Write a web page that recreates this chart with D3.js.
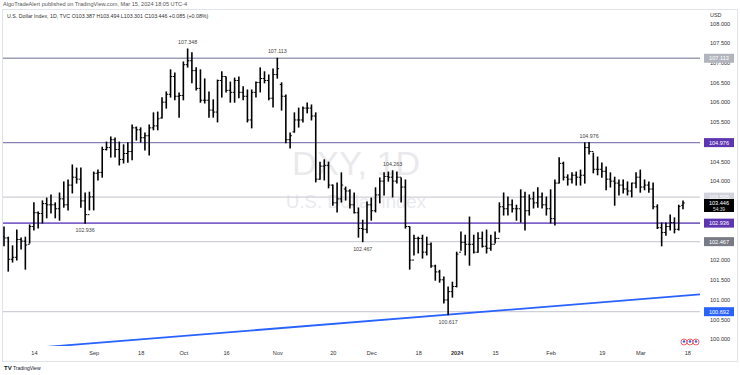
<!DOCTYPE html>
<html>
<head>
<meta charset="utf-8">
<script src="https://cdn.jsdelivr.net/npm/d3@7"></script>
<style>
  body { margin: 0; background: #fff; }
  svg { display: block; font-family: "Liberation Sans", Arial, sans-serif; }
</style>
</head>
<body>
<div id="chart"></div>
<script>
// daily bars, first session and the closed holidays
const startDate = "2023-08-03";
const closedDays = ["2023-12-25", "2024-01-01"];

const opens = [
  102.60, 102.56, 102.02, 102.07, 102.52, 102.48, 102.40, 102.85, 103.20, 103.18,
  103.43, 103.40, 103.40, 103.30, 103.55, 103.40, 103.90, 104.10, 104.05, 103.50,
  103.15, 103.60, 104.20, 104.22, 104.80, 104.85, 105.05, 104.80, 104.55, 104.70,
  104.75, 105.35, 105.30, 105.10, 105.15, 105.35, 105.40, 105.60, 106.00, 106.20,
  106.65, 106.15, 106.17, 106.95, 107.05, 106.80, 106.35, 106.05, 106.05, 105.80,
  105.75, 106.55, 106.65, 106.30, 106.25, 106.55, 106.25, 106.15, 105.55, 106.25,
  106.50, 106.60, 106.55, 106.10, 106.70, 106.45, 106.15, 105.05, 105.25, 105.55,
  105.55, 105.85, 105.85, 105.65, 104.05, 104.38, 104.40, 103.90, 103.45, 103.55,
  103.80, 103.75, 103.40, 103.20, 102.80, 102.78, 103.40, 103.25, 103.65, 104.00,
  104.12, 104.10, 104.00, 104.10, 103.85, 102.85, 102.00, 102.55, 102.55, 102.20,
  102.40, 101.85, 101.70, 101.50, 100.99, 101.20, 101.33, 102.20, 102.45, 102.40,
  102.40, 102.20, 102.55, 102.35, 102.30, 102.40, 102.55, 103.35, 103.30, 103.40,
  103.30, 103.30, 103.60, 103.25, 103.55, 103.45, 103.60, 103.40, 103.30, 103.05,
  103.95, 104.45, 104.10, 104.05, 104.15, 104.10, 104.15, 104.85, 104.75, 104.30,
  104.30, 104.25, 104.05, 104.00, 103.95, 103.90, 103.80, 103.75, 103.95, 104.10,
  103.85, 103.90, 103.80, 103.35, 102.82, 102.70, 102.85, 102.95, 102.78, 103.387
];
const highs = [
  102.84, 102.58, 102.36, 102.76, 102.56, 102.58, 102.89, 103.45, 103.22, 103.50,
  103.57, 103.65, 103.45, 103.70, 103.98, 104.03, 104.41, 104.33, 104.33, 103.70,
  103.72, 104.23, 104.28, 104.86, 104.99, 105.12, 105.09, 104.99, 104.92, 104.97,
  105.42, 105.37, 105.35, 105.22, 105.42, 105.73, 105.75, 106.11, 106.26, 106.82,
  106.74, 106.23, 107.02, 107.348, 107.25, 106.87, 106.82, 106.59, 106.26, 106.06,
  106.56, 106.77, 106.64, 106.51, 106.61, 106.64, 106.39, 106.31, 106.31, 106.51,
  106.87, 106.77, 106.69, 106.84, 107.113, 106.49, 106.18, 105.22, 105.73, 105.85,
  105.88, 105.98, 105.93, 105.73, 104.48, 104.54, 104.48, 103.90, 103.95, 104.21,
  103.85, 103.78, 103.70, 103.32, 103.01, 103.47, 103.57, 103.83, 104.08, 104.21,
  104.23, 104.263, 104.23, 104.08, 104.03, 102.84, 102.63, 102.58, 102.63, 102.58,
  102.43, 101.87, 101.74, 101.57, 101.32, 101.44, 102.20, 102.71, 102.63, 103.09,
  102.63, 102.69, 102.71, 102.76, 102.63, 102.71, 103.45, 103.70, 103.60, 103.52,
  103.39, 103.78, 103.72, 103.65, 103.72, 103.83, 103.70, 103.60, 103.78, 104.03,
  104.59, 104.48, 104.16, 104.21, 104.23, 104.28, 104.97, 104.976, 104.71, 104.61,
  104.46, 104.36, 104.21, 104.10, 104.03, 104.03, 103.98, 103.95, 104.21, 104.28,
  104.03, 103.98, 103.95, 103.40, 102.94, 102.94, 103.14, 103.07, 103.39, 103.494
];
const lows = [
  102.36, 101.72, 101.95, 102.00, 102.28, 101.77, 102.43, 102.76, 102.81, 102.94,
  103.07, 103.19, 103.07, 103.01, 103.34, 103.27, 103.70, 103.95, 103.34, 102.936,
  103.27, 103.27, 104.03, 104.10, 104.79, 104.61, 104.61, 104.41, 104.46, 104.48,
  104.54, 105.04, 104.99, 104.79, 104.66, 105.30, 105.30, 105.60, 105.85, 106.13,
  106.06, 105.62, 106.06, 106.89, 106.49, 106.31, 106.00, 105.98, 105.62, 105.62,
  105.50, 106.13, 106.26, 106.00, 106.00, 106.11, 106.06, 105.50, 105.35, 106.13,
  106.26, 106.49, 106.06, 105.88, 106.61, 105.80, 104.97, 104.84, 105.24, 105.37,
  105.50, 105.73, 105.55, 103.98, 104.05, 104.03, 103.83, 103.39, 103.22, 103.47,
  103.52, 103.32, 103.19, 102.58, 102.467, 102.69, 103.01, 103.22, 103.45, 103.65,
  104.00, 103.60, 103.95, 103.47, 102.81, 101.77, 102.13, 102.18, 102.05, 102.13,
  101.82, 101.49, 101.44, 100.91, 100.617, 101.06, 101.32, 102.25, 102.13, 101.87,
  102.18, 102.20, 102.33, 102.18, 102.25, 102.43, 102.71, 103.14, 103.14, 103.22,
  103.01, 102.96, 102.76, 103.14, 103.32, 103.34, 103.32, 103.14, 102.94, 102.89,
  103.95, 104.03, 103.90, 103.95, 103.90, 103.90, 103.95, 104.69, 104.21, 104.16,
  104.10, 103.78, 103.85, 103.39, 103.65, 103.70, 103.65, 103.60, 103.83, 103.72,
  103.78, 103.72, 103.30, 102.80, 102.36, 102.63, 102.76, 102.69, 102.76, 103.301
];
const closes = [
  102.56, 102.02, 102.07, 102.52, 102.48, 102.38, 102.85, 103.20, 103.18, 103.43,
  103.40, 103.40, 103.30, 103.55, 103.40, 103.90, 104.10, 104.05, 103.50, 103.15,
  103.60, 104.20, 104.22, 104.80, 104.85, 105.05, 104.80, 104.55, 104.70, 104.75,
  105.35, 105.30, 105.10, 105.15, 105.35, 105.40, 105.58, 106.00, 106.20, 106.65,
  106.15, 106.17, 106.95, 107.05, 106.80, 106.35, 106.05, 106.05, 105.80, 105.75,
  106.55, 106.65, 106.30, 106.25, 106.55, 106.25, 106.15, 105.55, 106.25, 106.50,
  106.60, 106.55, 106.10, 106.70, 106.85, 106.15, 105.05, 105.15, 105.55, 105.55,
  105.85, 105.85, 105.65, 104.05, 104.38, 104.40, 103.90, 103.45, 103.55, 103.90,
  103.75, 103.40, 103.20, 102.80, 102.78, 103.40, 103.25, 103.65, 104.00, 104.12,
  104.10, 104.00, 104.10, 103.85, 102.85, 102.00, 102.55, 102.55, 102.20, 102.40,
  101.85, 101.70, 101.50, 100.99, 101.20, 101.33, 102.15, 102.45, 102.40, 102.40,
  102.20, 102.55, 102.35, 102.30, 102.40, 102.55, 103.35, 103.30, 103.40, 103.30,
  103.30, 103.60, 103.25, 103.55, 103.45, 103.60, 103.40, 103.30, 103.05, 103.95,
  104.45, 104.10, 104.05, 104.15, 104.10, 104.15, 104.85, 104.75, 104.30, 104.30,
  104.25, 104.05, 104.00, 103.95, 103.90, 103.80, 103.75, 103.95, 104.10, 103.85,
  103.90, 103.80, 103.35, 102.82, 102.70, 102.85, 102.95, 102.78, 103.36, 103.446
];

// drawn horizontal levels
const grayLevels = [107.113, 103.595, 102.467, 100.692];
const purpleLevels = [104.976, 102.936];
// rising support line, two anchor points
const trendDates = ["2023-08-17", "2023-12-28"];
const trendPrices = [99.80, 100.617];
// swing labels
const pivotHighDates = ["2023-10-03", "2023-11-01", "2023-12-08", "2024-02-14"];
const pivotLowDates = ["2023-08-30", "2023-11-29", "2023-12-28"];

const tickDates = ["2023-08-14", "2023-09-01", "2023-09-18", "2023-10-02", "2023-10-16",
  "2023-11-01", "2023-11-20", "2023-12-01", "2023-12-18", "2024-01-02", "2024-01-15",
  "2024-02-01", "2024-02-19", "2024-03-01", "2024-03-18"];
const tickLabels = ["14", "Sep", "18", "Oct", "16", "Nov", "20", "Dec", "18", "2024", "15",
  "Feb", "19", "Mar", "18"];
const priceTicks = [100, 100.5, 101, 101.5, 102, 102.5, 103, 103.5, 104, 104.5, 105, 105.5,
  106, 106.5, 107, 107.5, 108];

// session list (weekdays minus closed days), with a few future slots for the axis
let fmt = d3.timeFormat("%Y-%m-%d");
let sessions = [];
let day = new Date(startDate + "T12:00:00");
while (sessions.length < opens.length + 6) {
    let wd = day.getDay();
    let key = fmt(day);
    if (wd !== 0 && wd !== 6 && closedDays.indexOf(key) < 0) sessions.push(key);
    day.setDate(day.getDate() + 1);
}
let idx = d => sessions.indexOf(d);

const W = 740, H = 375;
const paneRight = 700, paneTop = 9, paneBottom = 345;

const svg = d3.select('#chart').append('svg').attr('width', W).attr('height', H);

const x = d3.scaleLinear().domain([0, opens.length - 1]).range([4, 683]);
const y = d3.scaleLinear().domain([100, 107.5]).range([339, 43]);

// frame
svg.append('rect').attr('x', 2.5).attr('y', 9.5).attr('width', 735).attr('height', 352)
    .attr('fill', 'none').attr('stroke', '#e0e3eb').attr('stroke-width', 1);

// header
svg.append('text').attr('x', 3).attr('y', 6).attr('font-size', 5.6).attr('fill', '#555')
    .text('AlgoTradeAlert published on TradingView.com, Mar 15, 2024 18:05 UTC-4');
svg.append('text').attr('x', 7).attr('y', 18).attr('font-size', 5.3).attr('fill', '#333')
    .text('U.S. Dollar Index, 1D, TVC  O103.387  H103.494  L103.301  C103.446  +0.085 (+0.08%)');

const pane = svg.append('g');
pane.append('clipPath').attr('id', 'clip').append('rect')
    .attr('x', 3).attr('y', paneTop + 1).attr('width', paneRight - 3).attr('height', paneBottom - paneTop);

// watermark
pane.append('text').attr('x', 356).attr('y', 175).attr('text-anchor', 'middle')
    .attr('font-size', 34).attr('fill', '#eaeaed').text('DXY, 1D');
pane.append('text').attr('x', 356).attr('y', 208).attr('text-anchor', 'middle')
    .attr('font-size', 18.5).attr('fill', '#eaeaed').text('U.S. Dollar Index');

const g = pane.append('g').attr('clip-path', 'url(#clip)');

// levels
g.selectAll('line.gray').data(grayLevels).enter().append('line')
    .attr('x1', 3).attr('x2', paneRight)
    .attr('y1', d => y(d)).attr('y2', d => y(d))
    .attr('stroke', (d, i) => i === 0 ? '#9c9eb4' : '#cfd0d8')
    .attr('stroke-width', (d, i) => i === 0 ? 1.6 : 1.3);
g.selectAll('line.purple').data(purpleLevels).enter().append('line')
    .attr('x1', 3).attr('x2', paneRight)
    .attr('y1', d => y(d)).attr('y2', d => y(d))
    .attr('stroke', (d, i) => i === 0 ? '#8a80b8' : '#7e63c8')
    .attr('stroke-width', (d, i) => i === 0 ? 1.1 : 1.8);

// trend line, extended to the pane edge
let t0 = idx(trendDates[0]), t1 = idx(trendDates[1]);
let slope = (trendPrices[1] - trendPrices[0]) / (t1 - t0);
let xEnd = x.invert(paneRight);
g.append('line')
    .attr('x1', x(t0)).attr('y1', y(trendPrices[0]))
    .attr('x2', x(xEnd)).attr('y2', y(trendPrices[0] + slope * (xEnd - t0)))
    .attr('stroke', '#2962ff').attr('stroke-width', 1.8);

// OHLC bars
const bars = g.selectAll('g.bar').data(opens.map((o, i) => i)).enter().append('g');
bars.append('line')
    .attr('x1', i => x(i)).attr('x2', i => x(i))
    .attr('y1', i => y(highs[i]) - 0.5).attr('y2', i => y(lows[i]) + 0.5)
    .attr('stroke', '#000').attr('stroke-width', 1.6);
bars.append('line')
    .attr('x1', i => x(i) - 1.8).attr('x2', i => x(i))
    .attr('y1', i => y(opens[i])).attr('y2', i => y(opens[i]))
    .attr('stroke', '#000').attr('stroke-width', 1);
bars.append('line')
    .attr('x1', i => x(i)).attr('x2', i => x(i) + 1.8)
    .attr('y1', i => y(closes[i])).attr('y2', i => y(closes[i]))
    .attr('stroke', '#000').attr('stroke-width', 1);

// swing labels
pane.selectAll('text.ph').data(pivotHighDates).enter().append('text')
    .attr('x', d => x(idx(d))).attr('y', d => y(highs[idx(d)]) - 5)
    .attr('text-anchor', 'middle').attr('font-size', 5.3).attr('fill', '#444')
    .text(d => highs[idx(d)].toFixed(3));
pane.selectAll('text.pl').data(pivotLowDates).enter().append('text')
    .attr('x', d => x(idx(d))).attr('y', d => y(lows[idx(d)]) + 9)
    .attr('text-anchor', 'middle').attr('font-size', 5.3).attr('fill', '#444')
    .text(d => lows[idx(d)].toFixed(3));

// time axis
const xAxis = d3.axisBottom(x)
    .tickValues(tickDates.map(idx))
    .tickFormat((d, i) => tickLabels[i])
    .tickSize(0).tickPadding(0);
const xg = svg.append('g').attr('transform', 'translate(0,351)').call(xAxis);
xg.select('.domain').remove();
xg.selectAll('text').attr('font-size', 5.6).attr('fill', '#333')
    .attr('font-family', '"Liberation Sans", Arial, sans-serif')
    .attr('font-weight', (d, i) => tickLabels[i] === '2024' ? 'bold' : 'normal');

// price axis: labels hidden behind the level tags are skipped, like the platform does
let last = closes[closes.length - 1];
let tagPrices = grayLevels.concat(purpleLevels, [last]);
let freeTicks = priceTicks.filter(p => tagPrices.every(t => Math.abs(y(p) - y(t)) > 4));
const yAxis = d3.axisRight(y).tickValues(freeTicks).tickFormat(d3.format('.3f'))
    .tickSize(0).tickPadding(10);
const yg = svg.append('g').attr('transform', 'translate(' + paneRight + ',0)').call(yAxis);
yg.select('.domain').remove();
yg.selectAll('text').attr('font-size', 5.6).attr('fill', '#333')
    .attr('font-family', '"Liberation Sans", Arial, sans-serif');

// currency label covers the clipped top tick
svg.append('rect').attr('x', 703).attr('y', 10).attr('width', 34).attr('height', 11).attr('fill', '#fff');
svg.append('text').attr('x', 710).attr('y', 17).attr('font-size', 5.4).attr('fill', '#333').text('USD');

// price labels on the axis
let tag = function (price, fill, color) {
    let yy = y(price);
    svg.append('rect').attr('x', 704).attr('y', yy - 4.5).attr('width', 30).attr('height', 9)
        .attr('fill', fill);
    svg.append('text').attr('x', 719).attr('y', yy + 2).attr('text-anchor', 'middle')
        .attr('font-size', 5.6).attr('fill', color).text(price.toFixed(3));
}
tag(grayLevels[0], '#b2b5be', '#fff');
tag(purpleLevels[0], '#5e35b1', '#fff');
tag(grayLevels[1], '#d1d4dc', '#fff');
tag(purpleLevels[1], '#5e35b1', '#fff');
tag(grayLevels[2], '#787b86', '#fff');
tag(grayLevels[3], '#2962ff', '#fff');

// last price with countdown
svg.append('rect').attr('x', 704).attr('y', y(last) - 4).attr('width', 30).attr('height', 13)
    .attr('fill', '#000');
svg.append('text').attr('x', 719).attr('y', y(last) + 2.5).attr('text-anchor', 'middle')
    .attr('font-size', 5.6).attr('fill', '#fff').text(last.toFixed(3));
svg.append('text').attr('x', 719).attr('y', y(last) + 8).attr('text-anchor', 'middle')
    .attr('font-size', 4.8).attr('fill', '#ddd').text('54:39');

// event markers near the time axis
[684, 690, 696].forEach(function (cx) {
    svg.append('circle').attr('cx', cx).attr('cy', 342).attr('r', 3)
        .attr('fill', '#fff').attr('stroke', '#f23645').attr('stroke-width', 0.8);
    svg.append('circle').attr('cx', cx).attr('cy', 341.5).attr('r', 1.2).attr('fill', '#2962ff');
});

// footer logo
svg.append('text').attr('x', 4).attr('y', 370).attr('font-size', 6).attr('font-weight', 'bold')
    .attr('fill', '#131722').text('TV');
svg.append('text').attr('x', 13).attr('y', 370).attr('font-size', 5).attr('fill', '#131722')
    .text('TradingView');
</script>
</body>
</html>
